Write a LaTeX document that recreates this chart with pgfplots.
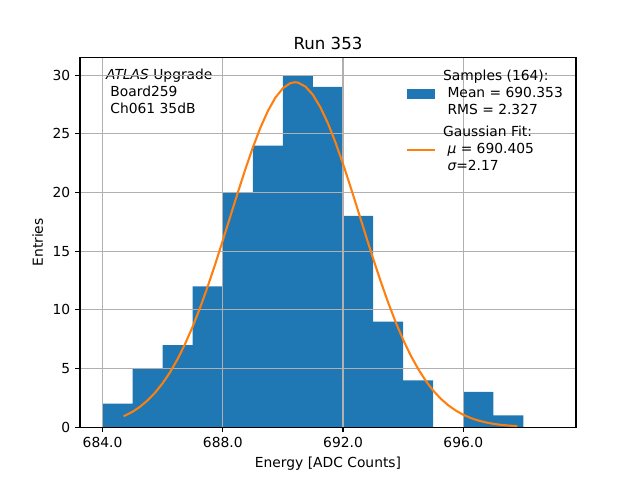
\documentclass[border=0pt]{standalone}
\usepackage{fontspec}
\setmainfont{DejaVu Sans}
\usepackage{pgfplots}
\pgfplotsset{compat=1.18}
\definecolor{c0}{HTML}{1F77B4}
\definecolor{c1}{HTML}{FF7F0E}
\definecolor{gridc}{HTML}{B0B0B0}
\begin{document}
\begin{tikzpicture}
\begin{axis}[
  at={(0,0)}, anchor=south west,
  scale only axis, width=4.96in, height=3.696in,
  xmin=683.25, xmax=699.75, ymin=0, ymax=31.5,
  set layers, axis on top,
  xtick={684,688,692,696}, ytick={0,5,10,15,20,25,30},
  /pgf/number format/assume math mode=true,
  xticklabel={\pgfmathprintnumber[fixed,fixed zerofill,precision=1,1000 sep={}]{\tick}},
  tick label style={font=\fontsize{10}{12}\selectfont},
  tick align=outside, tick pos=left,
  major tick length=3.5pt,
  tick style={black, line width=0.8pt},
  axis line style={line width=0.8pt},
  grid=major, major grid style={gridc, line width=0.8pt},
  title={Run 353},
  title style={at={(0.5,1)}, anchor=base, inner sep=0pt, font=\fontsize{12}{14}\selectfont},
  xlabel={Energy [ADC Counts]},
  ylabel={Entries},
  label style={font=\fontsize{10}{12}\selectfont},
  legend cell align=left,
  legend style={draw=none, fill=none, at={(0.988,0.981)}, anchor=north east,
    font=\fontsize{10}{12.2}\selectfont, nodes={align=left}, row sep=3pt,
    /tikz/every odd column/.style={column sep=3pt}},
]
\addplot[ybar interval, fill=c0, draw=none,
  legend image code/.code={\fill[c0] (0cm,-0.125cm) rectangle (0.71cm,0.125cm);}]
  coordinates {(684,2)(685,5)(686,7)(687,12)(688,20)(689,24)(690,30)(691,29)(692,18)(693,9)(694,4)(695,0)(696,3)(697,1)(698,0)};
\addlegendentry{Samples (164):\\\ Mean = 690.353\\\ RMS = 2.327}
\addplot[c1, line width=1.5pt, line join=round, on layer=axis foreground,
  legend image code/.code={\draw[c1, line width=1.5pt] (0cm,0cm) -- (0.71cm,0cm);}]
  coordinates {
  (684.7,0.93)(685.0,1.32)(685.25,1.75)(685.5,2.29)(685.75,2.95)(686.0,3.75)
  (686.25,4.70)(686.5,5.82)(686.75,7.12)(687.0,8.58)(687.25,10.22)(687.5,12.00)
  (687.75,13.91)(688.0,15.91)(688.25,17.96)(688.5,20.00)(688.75,21.98)(689.0,23.84)
  (689.25,25.52)(689.5,26.95)(689.75,28.09)(690.0,28.89)(690.25,29.33)(690.4,29.40)
  (690.5,29.37)(690.75,29.03)(691.0,28.32)(691.25,27.25)(691.5,25.89)(691.75,24.26)
  (692.0,22.44)(692.25,20.48)(692.5,18.45)(692.75,16.40)(693.0,14.38)(693.25,12.45)
  (693.5,10.63)(693.75,8.96)(694.0,7.45)(694.25,6.12)(694.5,4.96)(694.75,3.96)
  (695.0,3.12)(695.25,2.43)(695.5,1.87)(695.75,1.42)(696.0,1.06)(696.25,0.78)
  (696.5,0.57)(696.75,0.41)(697.0,0.29)(697.25,0.20)(697.5,0.14)(697.8,0.09)};
\addlegendentry{Gaussian Fit:\\\ {\itshape μ} = 690.405\\\ {\itshape σ}=2.17}
\node[anchor=north west, align=left, inner sep=0pt, font=\fontsize{10}{12.2}\selectfont]
  at (rel axis cs:0.052,0.969) {{\itshape ATLAS} Upgrade\\\ Board259\\\ Ch061 35dB};
\end{axis}
\pgfresetboundingbox
\path[use as bounding box] (-0.8in,-0.528in) rectangle (5.6in,4.272in);
\end{tikzpicture}
\end{document}
